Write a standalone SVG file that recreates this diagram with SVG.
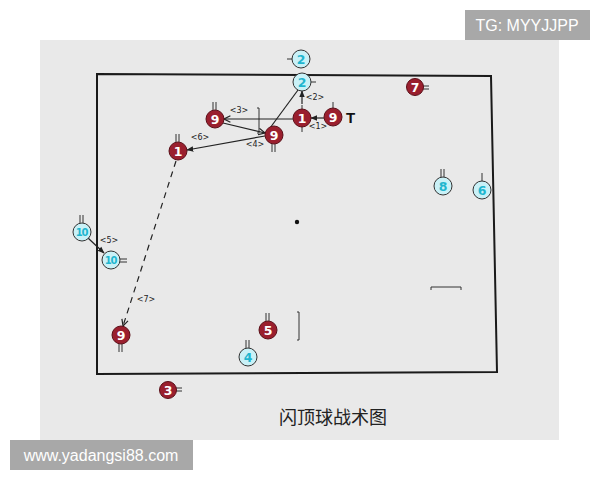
<svg xmlns="http://www.w3.org/2000/svg" width="600" height="480" viewBox="0 0 600 480">
<defs>
<style>
.r{fill:#9a1f2e;stroke:#5a0f18;stroke-width:1}
.c{fill:#c9f1f7;stroke:#333;stroke-width:1}
.rt{fill:#fff;font-family:"DejaVu Sans",sans-serif;font-weight:bold;font-size:12.5px;text-anchor:middle}
.ct{fill:#1fb6cf;font-family:"DejaVu Sans",sans-serif;font-weight:bold;font-size:12.5px;text-anchor:middle}
.ct2{fill:#1fb6cf;font-family:"DejaVu Sans",sans-serif;font-weight:bold;font-size:10px;text-anchor:middle;letter-spacing:-1.2px}
.tk{stroke:#333;stroke-width:1;fill:none}
.ln{stroke:#222;stroke-width:1.2;fill:none}
.lb{font-family:"DejaVu Sans",sans-serif;font-size:8px;fill:#222;text-anchor:middle}
</style>
<marker id="ah" viewBox="0 0 10 10" refX="9" refY="5" markerWidth="7" markerHeight="7" orient="auto" markerUnits="userSpaceOnUse">
<path d="M0,1 L10,5 L0,9 z" fill="#222"/>
</marker>
<marker id="ao" viewBox="0 0 10 10" refX="9" refY="5" markerWidth="8" markerHeight="8" orient="auto" markerUnits="userSpaceOnUse">
<path d="M1,1 L9,5 L1,9" fill="none" stroke="#222" stroke-width="1.5"/>
</marker>
</defs>
<rect width="600" height="480" fill="#fff"/>
<rect x="40" y="40" width="519" height="400" fill="#e9e9e9"/>
<g id="court" fill="none" stroke="#1a1a1a" stroke-width="2">
<path d="M97,74 L491,76 L497,372 L97,374 Z"/>
</g>
<circle cx="297" cy="222" r="2.2" fill="#111"/>
<path class="tk" d="M257,108 H259 V133 H257" stroke-width="1.3"/>
<path class="tk" d="M297,312 H299 V340 H297" stroke-width="1.3"/>
<path class="tk" d="M431,290 V287 H461 V290" stroke-width="1.5"/>
<g id="connectors">
<line class="ln" x1="324" y1="118" x2="311" y2="118" marker-end="url(#ah)"/>
<line class="ln" x1="302" y1="104" x2="302" y2="91" marker-end="url(#ah)"/>
<line class="ln" x1="293" y1="119" x2="224" y2="119" marker-end="url(#ao)"/>
<line class="ln" x1="223" y1="123" x2="265" y2="133" marker-end="url(#ao)"/>
<line class="ln" x1="298" y1="90" x2="270" y2="128"/>
<line class="ln" x1="265" y1="136" x2="187" y2="150" marker-end="url(#ah)"/>
<line class="ln" x1="176" y1="161" x2="123" y2="326" stroke-dasharray="6,5" marker-end="url(#ao)"/>
<line class="ln" x1="88" y1="238" x2="104" y2="253" marker-end="url(#ah)"/>
<text class="lb" x="318" y="129">&lt;1&gt;</text>
<text class="lb" x="315" y="100">&lt;2&gt;</text>
<text class="lb" x="239" y="113">&lt;3&gt;</text>
<text class="lb" x="255" y="147">&lt;4&gt;</text>
<text class="lb" x="109" y="243">&lt;5&gt;</text>
<text class="lb" x="200" y="140">&lt;6&gt;</text>
<text class="lb" x="146" y="302">&lt;7&gt;</text>
</g>
<g id="c2a"><line class="tk" x1="287" y1="59" x2="292" y2="59"/><circle class="c" cx="301" cy="59" r="9"/><text class="ct" x="301" y="63.5">2</text></g>
<g id="c2b"><line class="tk" x1="311" y1="82" x2="316" y2="82"/><circle class="c" cx="302" cy="82" r="9"/><text class="ct" x="302" y="86.5">2</text></g>
<g id="r1a"><line class="tk" x1="302" y1="105" x2="302" y2="132"/><circle class="r" cx="302" cy="118" r="9"/><text class="rt" x="302" y="122.5">1</text></g>
<g id="r9a"><line class="tk" x1="333" y1="102" x2="333" y2="108"/><circle class="r" cx="333" cy="117" r="9"/><text class="rt" x="333" y="121.5">9</text><text x="346" y="123" font-family="'Liberation Sans',sans-serif" font-weight="bold" font-size="15" fill="#111">T</text></g>
<g id="r9b"><path class="tk" d="M213,102 V110 M216,102 V110"/><circle class="r" cx="215" cy="119" r="9"/><text class="rt" x="215" y="123.5">9</text></g>
<g id="r9c"><path class="tk" d="M272,144 V152 M275,144 V152"/><circle class="r" cx="274" cy="135" r="9"/><text class="rt" x="274" y="139.5">9</text></g>
<g id="r1b"><path class="tk" d="M176,134 V142 M179,134 V142"/><circle class="r" cx="178" cy="151" r="9"/><text class="rt" x="178" y="155.5">1</text></g>
<g id="r9d"><path class="tk" d="M119,344 V352 M122,344 V352"/><circle class="r" cx="121" cy="335" r="9"/><text class="rt" x="121" y="339.5">9</text></g>
<g id="c10a"><path class="tk" d="M80,215 V223 M83,215 V223"/><circle class="c" cx="82" cy="232" r="9"/><text class="ct2" x="81.5" y="235.5">10</text></g>
<g id="c10b"><path class="tk" d="M120,259 H127 M120,262 H127"/><circle class="c" cx="111" cy="260" r="9"/><text class="ct2" x="110.5" y="263.5">10</text></g>
<g id="r7"><path class="tk" d="M423,86 H429 M423,89 H429"/><circle class="r" cx="415" cy="87" r="8.5"/><text class="rt" x="415" y="91.5">7</text></g>
<g id="c8"><path class="tk" d="M441,169 V177 M444,169 V177"/><circle class="c" cx="443" cy="186" r="9"/><text class="ct" x="443" y="190.5">8</text></g>
<g id="c6"><line class="tk" x1="482" y1="173" x2="482" y2="181"/><circle class="c" cx="482" cy="190" r="9"/><text class="ct" x="482" y="194.5">6</text></g>
<g id="r5"><path class="tk" d="M266,313 V321 M269,313 V321"/><circle class="r" cx="268" cy="330" r="9"/><text class="rt" x="268" y="334.5">5</text></g>
<g id="c4"><path class="tk" d="M246,340 V348 M249,340 V348"/><circle class="c" cx="248" cy="357" r="9"/><text class="ct" x="248" y="361.5">4</text></g>
<g id="r3"><path class="tk" d="M176,388 H182 M176,391 H182"/><circle class="r" cx="168" cy="390" r="8.5"/><text class="rt" x="168" y="394.5">3</text></g>
<text x="333" y="424" font-family="'Noto Sans CJK SC',sans-serif" font-size="18" fill="#222" text-anchor="middle">闪顶球战术图</text>
<rect x="465" y="10" width="125" height="30" fill="#a8a8a8"/>
<text x="527" y="31" font-family="'Liberation Sans',sans-serif" font-size="16" fill="#fff" text-anchor="middle">TG: MYYJJPP</text>
<rect x="10" y="440" width="183" height="30" fill="#a8a8a8"/>
<text x="101" y="461" font-family="'Liberation Sans',sans-serif" font-size="16" fill="#fff" text-anchor="middle">www.yadangsi88.com</text>
</svg>
